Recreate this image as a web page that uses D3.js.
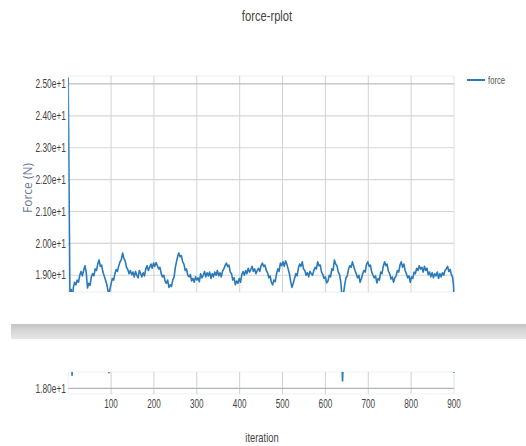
<!DOCTYPE html>
<html>
<head>
<meta charset="utf-8">
<script src="https://cdn.jsdelivr.net/npm/d3@7"></script>
<style>
  html, body { margin: 0; padding: 0; background: #fff; }
  svg { display: block; }
  .narrow { font-family: "Liberation Sans", Arial, sans-serif; }
</style>
</head>
<body>
<svg id="chart" width="526" height="446"></svg>
<script>
// ---- data ----
const iterations = [0,4,7,9,12,15,18,21,24,27,30,33,36,39,42,45,48,51,54,57,60,63,66,69,72,75,78,81,84,87,90,93,95,97,100,103,106,109,112,115,118,121,124,127,130,133,136,139,142,145,148,151,154,157,160,163,166,169,172,175,178,181,184,187,190,193,196,199,202,205,208,211,214,217,220,223,226,229,232,235,238,241,244,247,250,253,256,258,261,264,267,270,273,276,279,282,285,288,291,294,297,300,303,306,309,312,315,318,321,324,327,330,333,336,339,342,345,348,351,354,357,360,363,366,369,372,375,378,381,384,387,390,393,396,399,402,405,408,411,414,417,420,423,426,429,432,435,438,441,444,447,450,453,456,459,462,465,468,471,474,477,480,483,486,489,492,495,498,501,504,507,510,513,516,519,522,525,528,531,534,537,540,543,546,549,552,555,558,561,564,567,570,573,576,579,582,585,588,591,594,597,600,603,606,609,612,615,618,621,624,627,630,633,636,638,640,642,645,648,651,654,657,660,663,666,669,672,675,678,681,684,687,690,693,696,699,702,705,708,711,714,717,720,723,726,729,732,735,738,741,744,747,750,753,756,759,762,765,768,771,774,777,780,783,786,789,792,795,798,801,804,807,810,813,816,819,822,825,828,831,834,837,840,843,846,849,852,855,858,861,864,867,870,873,876,879,882,885,888,891,894,897,899,900];
const force = [25.20,18.45,18.55,18.16,18.62,18.78,18.70,18.85,18.78,19.00,19.12,18.98,19.15,19.30,19.10,18.60,18.75,18.68,18.95,19.05,18.98,19.20,19.15,19.35,19.48,19.28,19.32,19.10,18.98,18.85,18.72,18.50,18.19,18.55,18.72,18.90,18.85,19.05,19.18,19.12,19.30,19.42,19.50,19.70,19.52,19.45,19.25,19.18,19.05,19.15,19.02,19.10,18.95,19.12,19.00,18.92,19.15,19.05,18.95,19.08,18.98,19.20,19.30,19.15,19.25,19.35,19.22,19.38,19.28,19.40,19.30,19.20,19.25,19.05,18.95,19.00,18.82,18.75,18.85,18.62,18.70,18.65,18.85,18.95,19.25,19.45,19.62,19.70,19.58,19.62,19.42,19.35,19.15,19.20,19.00,18.95,19.02,18.82,18.90,18.78,18.95,18.85,18.92,18.80,19.05,18.92,19.00,19.12,18.95,19.08,18.98,19.10,18.90,19.05,18.95,19.10,19.00,19.15,18.98,19.08,18.95,19.12,19.20,19.30,19.38,19.28,19.32,19.10,19.05,18.85,18.92,18.70,18.82,18.75,18.90,18.78,19.02,19.12,19.00,19.15,19.05,19.22,19.10,19.18,19.28,19.12,19.20,19.05,19.15,19.22,19.12,19.30,19.38,19.28,19.32,19.15,19.08,18.92,18.98,18.78,18.70,18.85,18.80,19.05,19.20,19.12,19.38,19.30,19.42,19.28,19.45,19.35,19.20,19.05,18.80,18.62,18.75,18.90,19.05,18.98,19.22,19.35,19.28,19.42,19.20,19.15,19.00,19.08,18.95,19.12,19.05,19.00,19.15,19.25,19.20,19.42,19.30,19.32,19.10,19.02,18.90,18.95,18.76,18.82,19.00,18.95,19.20,19.15,19.48,19.35,19.30,19.10,19.02,18.78,18.45,18.09,18.40,18.70,18.92,18.98,19.20,19.30,19.25,19.42,19.28,19.15,19.05,18.92,19.00,18.78,18.90,19.05,19.15,19.10,19.35,19.42,19.28,19.32,19.10,19.00,18.92,18.98,18.76,18.90,18.85,19.10,19.05,19.28,19.42,19.30,19.35,19.12,19.05,18.88,18.95,18.78,18.92,18.98,19.15,19.10,19.32,19.42,19.25,19.35,19.15,19.05,18.92,18.98,18.78,18.95,18.90,19.10,19.05,19.22,19.15,19.30,19.20,19.25,19.10,19.28,19.15,19.22,19.02,19.10,18.95,19.08,18.92,19.05,18.98,19.10,18.90,19.05,18.95,19.08,19.00,19.15,19.20,19.28,19.12,19.18,19.02,18.92,18.65,18.19];
const xTicks = [100,200,300,400,500,600,700,800,900];
const yTicksTop = [19,20,21,22,23,24,25];
const yTicksBottom = [18];
const seriesName = "force";
const titleText = "force-rplot";
const xLabel = "iteration";
const yLabel = "Force (N)";

const data = iterations.map((it, i) => ({ x: it, y: force[i] }));

const svg = d3.select("#chart");
const left = 68.2, right = 454;
const topT = 76, topB = 292;
const botT = 372, botB = 394;
const color = "#2a7ab9";

const x = d3.scaleLinear().domain([0, 900]).range([left, right]);
const yTop = d3.scaleLinear().domain([18.475, 25.25]).range([topB, topT]);
const yBot = d3.scaleLinear().domain([17.93, 18.2]).range([botB, botT]);

// narrow text helper (horizontal squeeze)
function ntext(parent, tx, ty, str, opts) {
  const g = parent.append("g").attr("transform", `translate(${tx},${ty}) scale(${opts.sx || 0.75},1)`);
  return g.append("text").attr("class", "narrow")
    .attr("x", 0).attr("y", 0).attr("dy", opts.dy || "0.35em")
    .attr("text-anchor", opts.anchor || "middle")
    .attr("font-size", opts.size || 11).attr("fill", opts.fill || "#444").text(str);
}

const defs = svg.append("defs");
defs.append("clipPath").attr("id", "clipTop").append("rect")
  .attr("x", left).attr("y", topT).attr("width", right - left + 1).attr("height", topB - topT);
defs.append("clipPath").attr("id", "clipBot").append("rect")
  .attr("x", left).attr("y", botT).attr("width", right - left + 1).attr("height", botB - botT);
const grad = defs.append("linearGradient").attr("id", "barGrad")
  .attr("x1", 0).attr("y1", 0).attr("x2", 0).attr("y2", 1);
grad.append("stop").attr("offset", "0%").attr("stop-color", "#c4c4c4");
grad.append("stop").attr("offset", "45%").attr("stop-color", "#d6d6d6");
grad.append("stop").attr("offset", "100%").attr("stop-color", "#e6e6e6");

// title
ntext(svg, 267, 16, titleText, { size: 14, sx: 0.8, fill: "#444" });

// ---- top panel ----
const gTop = svg.append("g");
gTop.append("rect").attr("x", left).attr("y", topT).attr("width", right - left).attr("height", topB - topT)
  .attr("fill", "none").attr("stroke", "#e9eef4").attr("stroke-width", 1);
gTop.selectAll("line.vg").data(xTicks).join("line").attr("class", "vg")
  .attr("x1", d => x(d)).attr("x2", d => x(d)).attr("y1", topT).attr("y2", topB)
  .attr("stroke", d => d === 900 ? "#e6ecf3" : "#d2d2d2").attr("stroke-width", 1);
gTop.selectAll("line.hg").data(yTicksTop).join("line").attr("class", "hg")
  .attr("x1", left).attr("x2", right).attr("y1", d => yTop(d)).attr("y2", d => yTop(d))
  .attr("stroke", d => d === 25 ? "#bdbdbd" : "#d6d6d6").attr("stroke-width", 1.2);
yTicksTop.forEach(d => ntext(gTop, 66, yTop(d), d3.format(".2e")(d), { anchor: "end", size: 12, sx: 0.7 }));

const line = d3.line().x(d => x(d.x));
gTop.append("path").datum(data).attr("clip-path", "url(#clipTop)")
  .attr("fill", "none").attr("stroke", color).attr("stroke-width", 1.6).attr("stroke-linejoin", "round")
  .attr("d", line.y(d => yTop(d.y)));

// y label
svg.append("text").attr("transform", "translate(28,188) rotate(-90)")
  .attr("text-anchor", "middle").attr("dy", "0.35em").attr("font-family", "'Open Sans', 'Noto Sans', sans-serif")
  .attr("font-size", 12).attr("fill", "#667a94").text(yLabel);

// legend
svg.append("line").attr("x1", 467).attr("x2", 485).attr("y1", 80).attr("y2", 80)
  .attr("stroke", color).attr("stroke-width", 2);
ntext(svg, 488, 80, seriesName, { anchor: "start", size: 11, sx: 0.7, fill: "#555" });

// gray separator bar
svg.append("rect").attr("x", 11).attr("y", 324).attr("width", 515).attr("height", 15)
  .attr("fill", "url(#barGrad)");

// ---- bottom panel ----
const gBot = svg.append("g");
gBot.append("rect").attr("x", left).attr("y", botT).attr("width", right - left).attr("height", botB - botT)
  .attr("fill", "none").attr("stroke", "#edf1f6").attr("stroke-width", 1);
gBot.selectAll("line.vg").data(xTicks).join("line").attr("class", "vg")
  .attr("x1", d => x(d)).attr("x2", d => x(d)).attr("y1", botT).attr("y2", botB)
  .attr("stroke", d => d === 900 ? "#e6ecf3" : "#cfcfcf").attr("stroke-width", 1);
gBot.selectAll("line.hg").data(yTicksBottom).join("line").attr("class", "hg")
  .attr("x1", left).attr("x2", right).attr("y1", d => yBot(d)).attr("y2", d => yBot(d))
  .attr("stroke", "#b5b5b5").attr("stroke-width", 1.2);
yTicksBottom.forEach(d => ntext(gBot, 66, yBot(d), d3.format(".2e")(d), { anchor: "end", size: 12, sx: 0.7 }));
gBot.append("path").datum(data).attr("clip-path", "url(#clipBot)")
  .attr("fill", "none").attr("stroke", color).attr("stroke-width", 1.6).attr("stroke-linejoin", "round")
  .attr("d", d3.line().x(d => x(d.x)).y(d => yBot(d.y)));

// x tick labels
xTicks.forEach(d => ntext(svg, x(d), 404, String(d), { size: 12, sx: 0.68 }));

// x label
ntext(svg, 262, 437, xLabel, { size: 13, sx: 0.72 });
</script>
</body>
</html>
